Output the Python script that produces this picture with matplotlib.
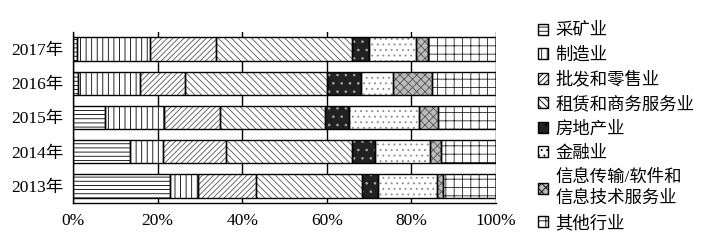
import numpy as np
import matplotlib
matplotlib.use("Agg")
import matplotlib.pyplot as plt
from matplotlib.patches import Patch

plt.rcParams['font.family'] = ['Liberation Serif', 'Noto Sans CJK SC']
plt.rcParams['hatch.linewidth'] = 0.6

years = ['2013年', '2014年', '2015年', '2016年', '2017年']
industries = ['采矿业', '制造业', '批发和零售业', '租赁和商务服务业', '房地产业',
              '金融业', '信息传输/软件和\n信息技术服务业', '其他行业']
# share (%) of each industry, per year (2013..2017)
mining = [22.9, 13.4, 7.6, 1.1, 0.9]
manufacturing = [6.6, 7.9, 13.9, 14.8, 17.4]
wholesale = [13.7, 14.9, 13.3, 10.6, 15.6]
leasing = [25.2, 29.7, 24.7, 33.6, 32.1]
real_estate = [3.8, 5.6, 5.7, 7.9, 4.0]
finance = [13.9, 13.0, 16.5, 7.7, 11.2]
info_tech = [1.4, 2.6, 4.6, 9.3, 2.8]
other = [12.5, 12.9, 13.7, 15.0, 16.0]
series = [mining, manufacturing, wholesale, leasing, real_estate, finance, info_tech, other]

# (facecolor, hatch, hatch colour)
styles = [
    ('white', '----', 'black'),
    ('white', '|||', 'black'),
    ('white', '//////', '#555555'),
    ('white', '\\\\\\\\\\', '#555555'),
    ('#222222', '..', '#aaaaaa'),
    ('white', '...', '#888888'),
    ('#bbbbbb', 'xxxx', '#555555'),
    ('white', '++', '#222222'),
]

fig = plt.figure(figsize=(7.06, 2.5), dpi=100)
ax = fig.add_axes([0.1034, 0.188, 0.599, 0.684])

y = np.arange(len(years))
left = np.zeros(len(years))
for vals, (fc, hatch, hc) in zip(series, styles):
    vals = np.array(vals)
    ax.barh(y, vals, left=left, height=0.68, color=fc, hatch=hatch,
            edgecolor=hc, linewidth=0, zorder=2)
    ax.barh(y, vals, left=left, height=0.68, facecolor='none',
            edgecolor='black', linewidth=1.0, zorder=3)
    left += vals

ax.set_xlim(0, 100)
ax.set_ylim(-0.5, 4.5)
ax.set_xticks([0, 20, 40, 60, 80, 100])
ax.set_xticklabels(['0%', '20%', '40%', '60%', '80%', '100%'], fontsize=12.5)
ax.set_yticks(y)
ax.set_yticklabels(years, fontsize=12.5)
ax.tick_params(length=0, pad=7)
ax.xaxis.grid(True, color='black', linewidth=1.0, zorder=0)
ax.set_axisbelow(True)
for s in ['top', 'right']:
    ax.spines[s].set_visible(False)
for s in ['left', 'bottom']:
    ax.spines[s].set_linewidth(1.0)

handles = [Patch(facecolor=fc, hatch=h, edgecolor='black', linewidth=1.0)
           for fc, h, hc in styles]
leg = fig.legend(handles, industries, loc='upper left',
                 bbox_to_anchor=(0.752, 0.935), frameon=False, fontsize=12.5,
                 handlelength=0.6, handleheight=0.6, handletextpad=0.4,
                 labelspacing=0.46, borderaxespad=0)
for t in leg.get_texts():
    t.set_linespacing(1.4)

fig.savefig('out.png', dpi=100)
